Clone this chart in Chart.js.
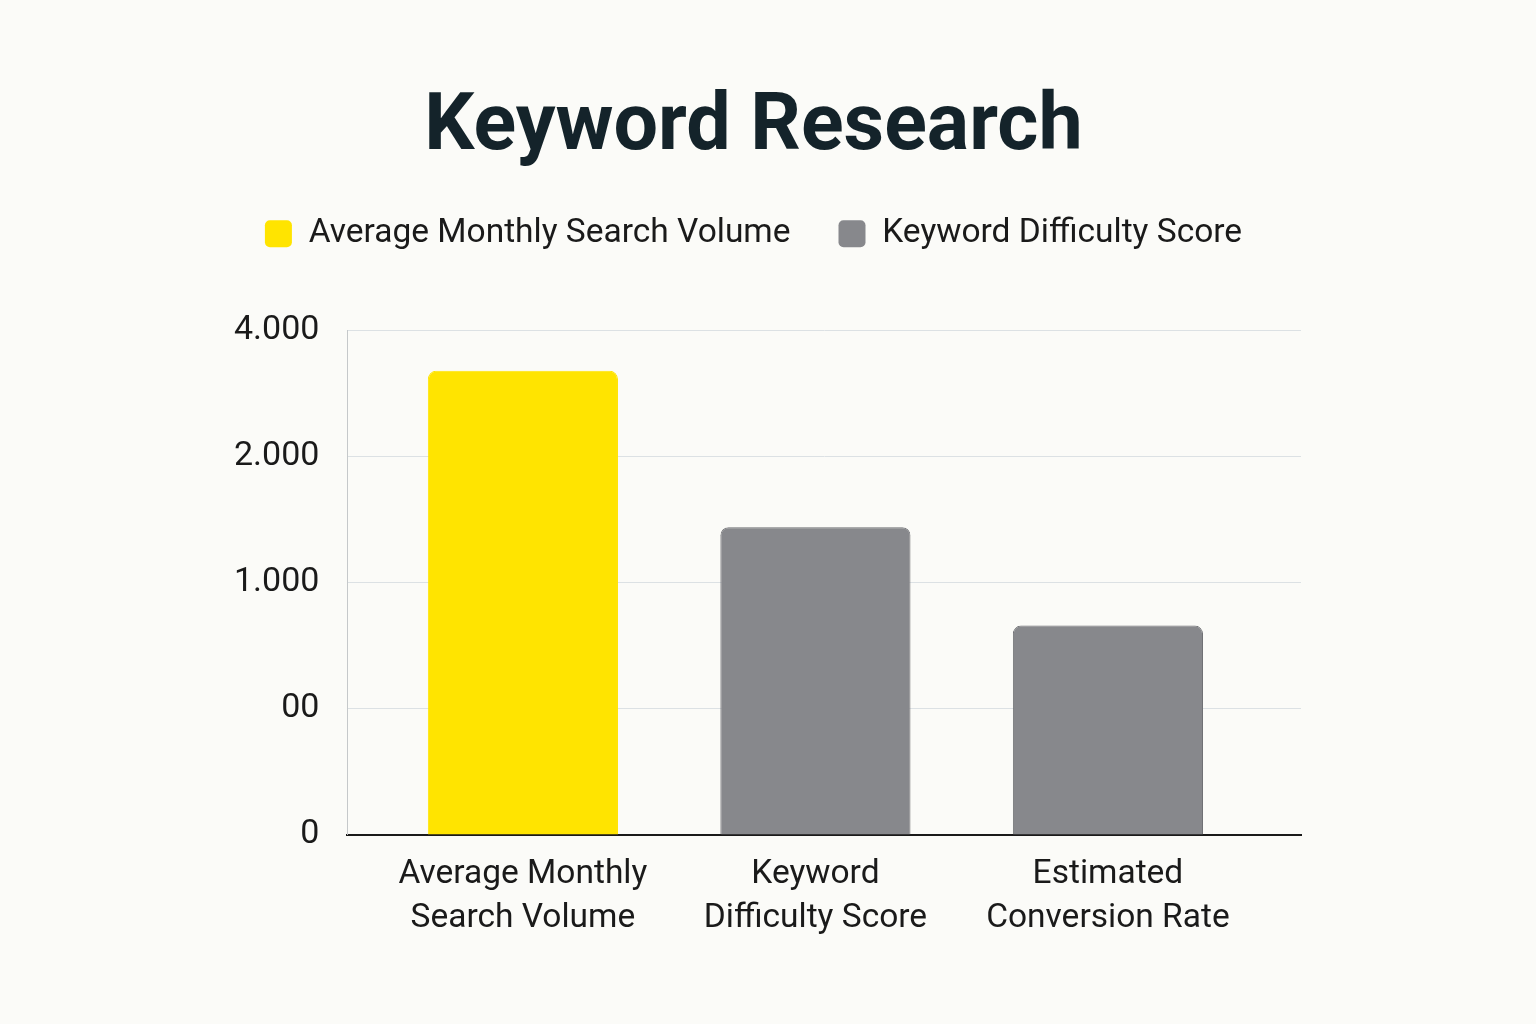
<!DOCTYPE html>
<html>
<head>
<meta charset="utf-8">
<title>Keyword Research</title>
<script src="https://cdn.jsdelivr.net/npm/chart.js@4.4.1/dist/chart.umd.min.js"></script>
<style>
    html, body { margin: 0; padding: 0; background: #fbfbf8; }
    #wrap { width: 1536px; height: 1024px; }
</style>
</head>
<body>
<div id="wrap"><canvas id="myChart" width="1536" height="1024"></canvas></div>
<script>
// data (bar heights in y-tick steps, ticks are evenly spaced)
const categories = [['Average Monthly', 'Search Volume'], ['Keyword', 'Difficulty Score'], ['Estimated', 'Conversion Rate']];
const positions = [0, 1, 2];
const values = [3.68, 2.44, 1.66];
const yTickLabels = ['0', '00', '1.000', '2.000', '4.000'];
const legendNames = ['Average Monthly Search Volume', 'Keyword Difficulty Score'];
const legendColors = ['#ffe400', '#87888c'];
const barColors = ['#ffe400', '#87888c', '#87888c'];
const barBorders = ['#ffe400', '#707175', '#707175'];

const fontFamily = 'Roboto, "Liberation Sans", Arial, sans-serif';
const textColor = '#1a1a1a';

// push the plot area down below the legend
const legendGap = {
    id: 'legendGap',
    beforeInit(chart) {
        const fit = chart.legend.fit;
        chart.legend.fit = function() {
            fit.call(this);
            this.height += 70;
        };
    }
};

const ctx = document.getElementById('myChart').getContext('2d');
new Chart(ctx, {
    type: 'bar',
    data: {
        datasets: [{
            label: 'Keyword Research',
            data: positions.map((x, i) => ({ x: x, y: values[i] })),
            backgroundColor: barColors,
            borderColor: barBorders,
            borderWidth: 1,
            borderRadius: 8,
            borderSkipped: 'bottom',
            barPercentage: 0.65,
            categoryPercentage: 1
        }]
    },
    plugins: [legendGap],
    options: {
        responsive: false,
        animation: false,
        layout: {
            padding: { top: 30, left: 206, right: 235, bottom: 74 }
        },
        plugins: {
            title: {
                display: true,
                text: 'Keyword Research',
                color: '#14232a',
                font: { family: fontFamily, size: 79, weight: 'bold', lineHeight: 1.0 },
                padding: { top: 60, bottom: 0 }
            },
            legend: {
                labels: {
                    generateLabels: () => legendNames.map((name, i) => ({
                        text: name,
                        fillStyle: legendColors[i],
                        strokeStyle: legendColors[i],
                        lineWidth: 0,
                        borderRadius: 5,
                        hidden: false,
                        fontColor: textColor,
                        index: i
                    })),
                    boxWidth: 27,
                    boxHeight: 27,
                    useBorderRadius: true,
                    borderRadius: 5,
                    padding: 48,
                    color: textColor,
                    font: { family: fontFamily, size: 33.5 }
                }
            },
            tooltip: { enabled: false }
        },
        scales: {
            x: {
                type: 'linear',
                offset: false,
                min: -0.6,
                max: 2.66,
                z: 1,
                afterBuildTicks: axis => { axis.ticks = positions.map(v => ({ value: v })); },
                ticks: {
                    callback: v => categories[v],
                    color: textColor,
                    font: { family: fontFamily, size: 33.5, lineHeight: 1.3 },
                    padding: 10,
                    maxRotation: 0
                },
                grid: { display: false },
                border: { color: '#1a1a1a', width: 2 }
            },
            y: {
                min: 0,
                max: 4,
                afterBuildTicks: axis => { axis.ticks = yTickLabels.map((_, i) => ({ value: i })); },
                ticks: {
                    callback: v => yTickLabels[v],
                    color: textColor,
                    font: { family: fontFamily, size: 34 },
                    padding: 28
                },
                grid: {
                    color: c => c.tick && c.tick.value === 0 ? 'rgba(0,0,0,0)' : '#dce1e4',
                    drawTicks: false
                },
                border: { color: '#c5c8ca', width: 1 }
            }
        }
    }
});
</script>
</body>
</html>
